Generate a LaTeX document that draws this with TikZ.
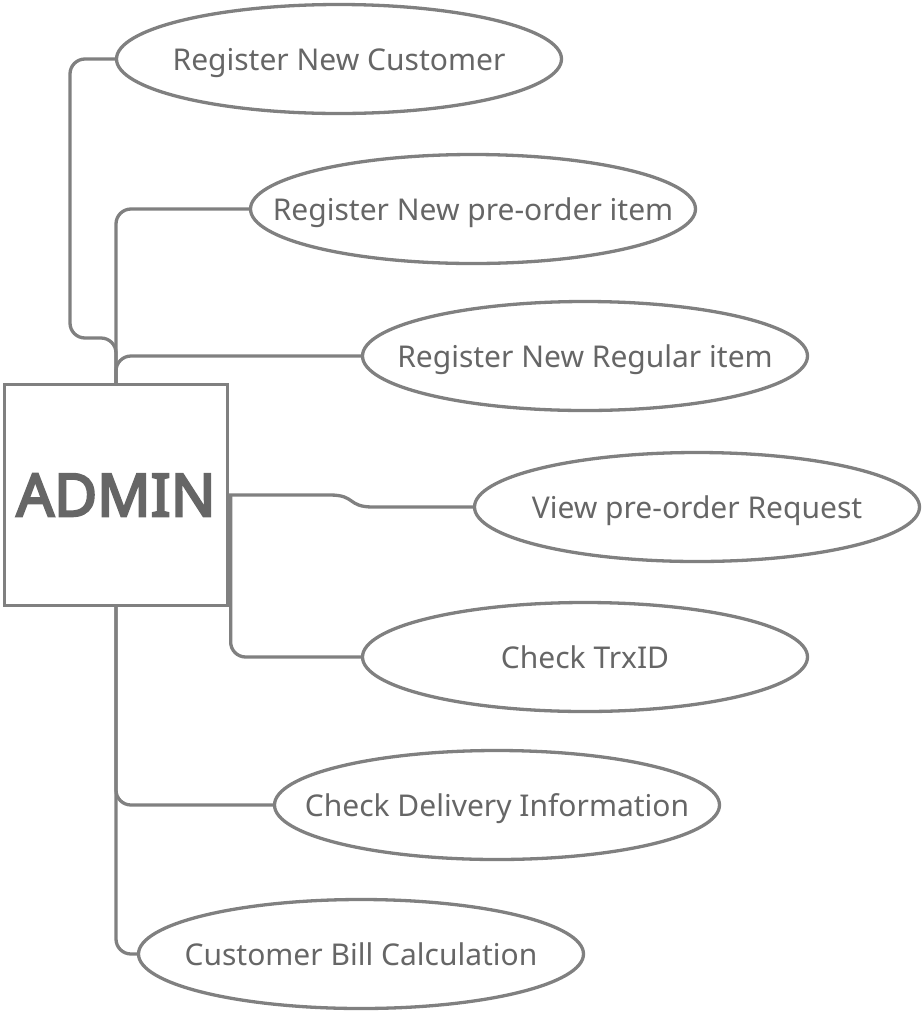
\documentclass[tikz,border=0pt]{standalone}
\usepackage{fontspec}
\setmainfont{Noto Sans}
\newfontfamily\adminfont[FakeBold=4]{Noto Sans}
\usepackage{tikz}
\usetikzlibrary{shapes,positioning}
\usepackage{xcolor}
\definecolor{uclinegray}{RGB}{128,128,128}
\definecolor{uctextgray}{RGB}{102,102,102}
\tikzstyle{usecase} = [ellipse, minimum width=445pt, minimum height=109pt, inner xsep=-60pt, inner ysep=0pt, text depth=0pt, draw=uclinegray, line width=3.3pt, text=uctextgray, font=\fontsize{30}{36}\selectfont]
\tikzstyle{actor} = [rectangle, minimum width=223pt, minimum height=221pt, inner sep=0pt, draw=uclinegray, line width=3.3pt, text=uctextgray, font=\adminfont\fontsize{59}{70}\selectfont]
\tikzstyle{link} = [line width=3.3pt, color=uclinegray, rounded corners=15pt]

\begin{document}
\begin{tikzpicture}[x=1pt, y=-1pt]
\useasboundingbox (0,0) rectangle (923,1013);
% Actor
\node (admin) [actor] at (116,495) {ADMIN};

% Use cases
\node (newcust) [usecase] at (339,59) {Register New Customer};
\node (preitem) [usecase] at (473,209) {Register New pre-order item};
\node (regitem) [usecase] at (585,356) {Register New Regular item};
\node (viewreq) [usecase] at (697,507) {View pre-order Request};
\node (trxid) [usecase] at (585,657) {Check TrxID};
\node (delivery) [usecase] at (497,805) {Check Delivery Information};
\node (bill) [usecase] at (361,954) {Customer Bill Calculation};

% Links
\draw[link] (newcust.west) -- (70,59) -- (70,338) -- (116,338) -- (admin.north);
\draw[link] (preitem.west) -| (admin.north);
\draw[link] (regitem.west) -| (admin.north);
\draw[link, sharp corners] (admin.east) -- (330,495) .. controls (356,495) and (347,507) .. (373,507) -- (viewreq.west);
\draw[link] ([xshift=1.5pt]admin.east) |- (trxid.west);
\draw[link] (admin.south) |- (delivery.west);
\draw[link] (admin.south) |- (bill.west);
\end{tikzpicture}
\end{document}
